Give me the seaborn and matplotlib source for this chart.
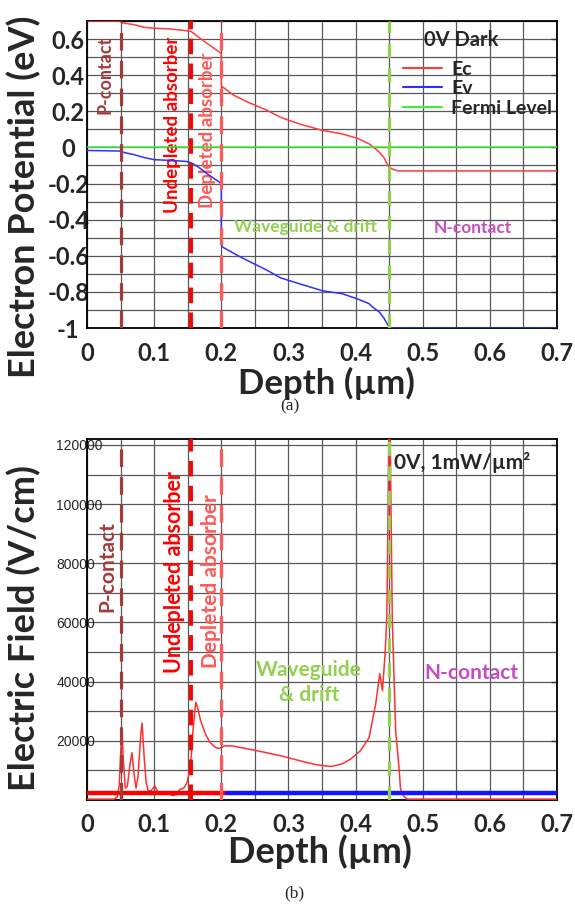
import numpy as np
import pandas as pd
import matplotlib
matplotlib.use("Agg")
import matplotlib.pyplot as plt
from matplotlib.lines import Line2D
from matplotlib.ticker import MultipleLocator, FixedLocator, FixedFormatter
import seaborn as sns

# ---------------- band diagram (0 V, dark) ----------------
ec_depth = [0.0, 0.05, 0.052, 0.07, 0.085, 0.10, 0.12, 0.14, 0.155, 0.17, 0.185, 0.2,
            0.2001, 0.218, 0.24, 0.268, 0.288, 0.318, 0.351, 0.38, 0.403, 0.42, 0.427,
            0.435, 0.442, 0.449, 0.455, 0.463, 0.7]
ec_energy = [0.70, 0.70, 0.69, 0.68, 0.665, 0.66, 0.657, 0.65, 0.642, 0.60, 0.56, 0.52,
             0.34, 0.29, 0.25, 0.206, 0.167, 0.128, 0.094, 0.075, 0.05, 0.02, 0.0,
             -0.025, -0.055, -0.105, -0.12, -0.13, -0.13]

ev_depth = [0.0, 0.05, 0.055, 0.07, 0.084, 0.10, 0.125, 0.149, 0.158, 0.17, 0.179, 0.2,
            0.2001, 0.201, 0.228, 0.268, 0.288, 0.318, 0.351, 0.38, 0.403, 0.42, 0.427,
            0.435, 0.442, 0.449, 0.453, 0.7]
ev_energy = [-0.017, -0.02, -0.028, -0.04, -0.055, -0.068, -0.072, -0.078, -0.09, -0.12, -0.146, -0.2,
             -0.52, -0.55, -0.606, -0.68, -0.722, -0.757, -0.794, -0.81, -0.839, -0.865, -0.889,
             -0.91, -0.944, -0.989, -1.0, -1.0]

fermi_depth = [0.0, 0.7]
fermi_energy = [0.0, 0.0]

band_names = ["Ec", "Ev", "Fermi Level"]
band_colors = ["#ff3b3b", "#2f2fff", "#3cf03c"]

# ---------------- electric field (0 V, 1 mW/um^2) ----------------
field_depth = [0.0, 0.04, 0.045, 0.048, 0.05, 0.052, 0.054, 0.057, 0.06, 0.064, 0.067, 0.07,
               0.073, 0.076, 0.08, 0.082, 0.085, 0.088, 0.091, 0.095, 0.101, 0.106, 0.112,
               0.12, 0.127, 0.133, 0.138, 0.145, 0.149, 0.152, 0.155, 0.158, 0.162, 0.165,
               0.169, 0.176, 0.183, 0.19, 0.195, 0.2, 0.205, 0.216, 0.25, 0.288, 0.318,
               0.34, 0.363, 0.38, 0.393, 0.407, 0.42, 0.43, 0.436, 0.44, 0.444, 0.4466,
               0.448, 0.4495, 0.4515, 0.4547, 0.4597, 0.4647, 0.467, 0.472, 0.477, 0.7]
field_value = [300, 300, 1000, 5000, 15000, 24000, 14000, 4000, 4500, 12000, 16000, 9000,
               4000, 8000, 22000, 26000, 15000, 6000, 3200, 3000, 4800, 2500, 1800,
               2500, 1500, 1800, 3500, 4200, 6000, 9000, 14000, 24000, 33000, 31000,
               27000, 22500, 19500, 18000, 17400, 17700, 18300, 18300, 16800, 15000, 13200,
               12000, 11300, 12200, 13900, 16600, 21000, 32500, 42700, 37000, 49500, 62000,
               90000, 124000, 124000, 60700, 23400, 10900, 3700, 1200, 300, 300]

# thick level bars along the bottom of the field plot
bar_red_depth = [0.0, 0.2085]
bar_blue_depth = [0.2085, 0.7]
bar_level = [2200, 2200]

# region boundaries and their labels
bound_depth = [0.05, 0.155, 0.2, 0.45]
bound_colors = ["#a33b3b", "#ff0000", "#ff5a5a", "#92d050"]
region_names = ["P-contact", "Undepleted absorber", "Depleted absorber",
                "Waveguide & drift", "N-contact"]
region_colors = ["#a33b3b", "#ff0000", "#ff5a5a", "#92d050", "#c84cc0"]

x_ticks = [0, 0.1, 0.2, 0.3, 0.4, 0.5, 0.6, 0.7]
x_tick_labels = ["0", "0.1", "0.2", "0.3", "0.4", "0.5", "0.6", "0.7"]
e_ticks = [-1, -0.8, -0.6, -0.4, -0.2, 0, 0.2, 0.4, 0.6]
e_tick_labels = ["-1", "-0.8", "-0.6", "-0.4", "-0.2", "0", "0.2", "0.4", "0.6"]
f_ticks = [20000, 40000, 60000, 80000, 100000, 120000]
f_tick_labels = ["20000", "40000", "60000", "80000", "100000", "120000"]

# ---------------- style ----------------
sns.set_style("white")
plt.rcParams["font.family"] = ["Lato", "DejaVu Sans"]
plt.rcParams["axes.unicode_minus"] = False

BOLD = dict(family=["Lato", "DejaVu Sans"], weight="bold")
W, H = 575, 906
fig = plt.figure(figsize=(W / 100, H / 100), dpi=100)


def px_axes(left, top, right, bottom):
    return fig.add_axes([left / W, 1 - bottom / H, (right - left) / W, (bottom - top) / H])


def style_axes(ax, ymin, ymax, ygrid):
    ax.set_xlim(0, 0.7)
    ax.set_ylim(ymin, ymax)
    ax.xaxis.set_major_locator(FixedLocator(x_ticks))
    ax.xaxis.set_major_formatter(FixedFormatter(x_tick_labels))
    ax.xaxis.set_minor_locator(MultipleLocator(0.05))
    ax.yaxis.set_minor_locator(MultipleLocator(ygrid))
    ax.grid(True, which="both", color="#585858", lw=0.9)
    ax.set_axisbelow(True)
    for s in ax.spines.values():
        s.set_color("black")
        s.set_linewidth(1.3)
    ax.tick_params(axis="both", which="major", direction="in", length=4, width=1,
                   right=True, top=False, color="#333333")
    ax.tick_params(axis="both", which="minor", length=0)
    ax.tick_params(axis="x", pad=10)
    for lab in ax.get_xticklabels():
        lab.set_fontsize(17)
        lab.set_fontweight("bold")
    ax.set_xlabel("")
    ax.set_ylabel("")


def draw_bounds(ax):
    dash_specs = [(5.5, 3.2), (4.0, 2.4), (5.5, 3.2), (4.5, 3.2)]
    widths = [2.3, 2.8, 2.3, 2.3]
    for xb, c, d, w in zip(bound_depth, bound_colors, dash_specs, widths):
        ax.axvline(xb, color=c, lw=w, dashes=d, zorder=5)


# ---------------- (a) band diagram ----------------
ax1 = px_axes(87, 21, 557, 328)
bands = pd.concat([
    pd.DataFrame({"depth": ec_depth, "energy": ec_energy, "band": "Ec"}),
    pd.DataFrame({"depth": ev_depth, "energy": ev_energy, "band": "Ev"}),
    pd.DataFrame({"depth": fermi_depth, "energy": fermi_energy, "band": "Fermi Level"}),
], ignore_index=True)
sns.lineplot(data=bands, x="depth", y="energy", hue="band", hue_order=band_names,
             palette=band_colors, sort=False, estimator=None, lw=1.1, legend=False,
             ax=ax1, zorder=4)
style_axes(ax1, -1.0, 0.7, 0.1)
ax1.yaxis.set_major_locator(FixedLocator(e_ticks))
ax1.yaxis.set_major_formatter(FixedFormatter(e_tick_labels))
ax1.tick_params(axis="y", pad=13.5)
for lab in ax1.get_yticklabels():
    lab.set_fontsize(17)
    lab.set_fontweight("bold")
    lab.set_horizontalalignment("center")
draw_bounds(ax1)

ax1.text(0.027, 0.40, region_names[0], rotation=90, color=region_colors[0],
         fontsize=13, ha="center", va="center", **BOLD)
ax1.text(0.128, 0.124, region_names[1], rotation=90, color=region_colors[1],
         fontsize=13.5, ha="center", va="center", **BOLD)
ax1.text(0.179, 0.096, region_names[2], rotation=90, color=region_colors[2],
         fontsize=13.5, ha="center", va="center", **BOLD)
ax1.text(0.325, -0.44, region_names[3], color=region_colors[3],
         fontsize=12.5, ha="center", va="center", **BOLD)
ax1.text(0.575, -0.446, region_names[4], color=region_colors[4],
         fontsize=12.5, ha="center", va="center", **BOLD)

ax1.text(0.557, 0.595, "0V Dark", fontsize=14.5, ha="center", va="center", **BOLD)
handles = [Line2D([], [], color=c, lw=1.5) for c in band_colors]
leg = ax1.legend(handles, band_names, loc="upper left", bbox_to_anchor=(0.672, 0.87),
                 frameon=False, borderpad=0, borderaxespad=0, handlelength=2.0,
                 handletextpad=0.5, labelspacing=0.12,
                 prop=dict(family=["Lato", "DejaVu Sans"], weight="bold", size=14))

fig.text(24 / W, 1 - 197 / H, "Electron Potential (eV)", rotation=90, fontsize=26,
         ha="center", va="center", **BOLD)
fig.text(326 / W, 1 - 383 / H, "Depth (µm)", fontsize=25, ha="center", va="center", **BOLD)
fig.text(290 / W, 1 - 406 / H, "(a)", fontsize=12.5, ha="center", va="center",
         family="Liberation Serif")

# ---------------- (b) electric field ----------------
ax2 = px_axes(87, 439, 557, 800)
field = pd.DataFrame({"depth": field_depth, "field": field_value})
sns.lineplot(data=field, x="depth", y="field", color="#ff3030", lw=1.1, sort=False,
             estimator=None, ax=ax2, zorder=3)
sns.lineplot(x=bar_red_depth, y=bar_level, color="#ff0000", lw=3.2, ax=ax2, zorder=4)
sns.lineplot(x=bar_blue_depth, y=bar_level, color="#1414ff", lw=3.2, ax=ax2, zorder=4)
style_axes(ax2, 0, 122000, 10000)
ax2.yaxis.set_major_locator(FixedLocator(f_ticks))
ax2.yaxis.set_major_formatter(FixedFormatter(f_tick_labels))
ax2.tick_params(axis="y", pad=22)
ax2.tick_params(axis="x", pad=9)
for lab in ax2.get_yticklabels():
    lab.set_fontsize(10)
    lab.set_family(["Liberation Sans"])
    lab.set_horizontalalignment("left")
draw_bounds(ax2)

ax2.text(0.031, 79000, region_names[0], rotation=90, color=region_colors[0],
         fontsize=15, ha="center", va="center", **BOLD)
ax2.text(0.131, 77000, region_names[1], rotation=90, color=region_colors[1],
         fontsize=15.5, ha="center", va="center", **BOLD)
ax2.text(0.184, 74000, region_names[2], rotation=90, color=region_colors[2],
         fontsize=15, ha="center", va="center", **BOLD)
ax2.text(0.331, 39700, "Waveguide\n& drift", color=region_colors[3], fontsize=15,
         ha="center", va="center", linespacing=1.3, **BOLD)
ax2.text(0.573, 43000, region_names[4], color=region_colors[4], fontsize=15,
         ha="center", va="center", **BOLD)
ax2.text(0.457, 114000, "0V, 1mW/µm²", fontsize=15, ha="left", va="center", **BOLD)

fig.text(24 / W, 1 - 628 / H, "Electric Field (V/cm)", rotation=90, fontsize=26,
         ha="center", va="center", **BOLD)
fig.text(320 / W, 1 - 852 / H, "Depth (µm)", fontsize=26, ha="center", va="center", **BOLD)
fig.text(294 / W, 1 - 893 / H, "(b)", fontsize=12.5, ha="center", va="center",
         family="Liberation Serif")

fig.savefig("out.png", dpi=100)
